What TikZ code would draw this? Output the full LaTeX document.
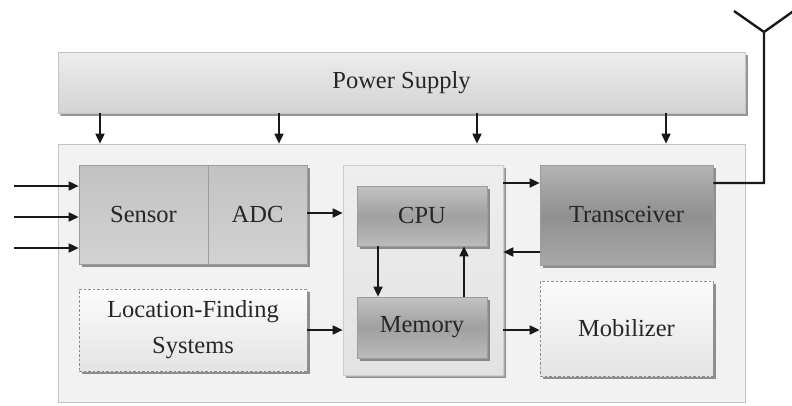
\documentclass[tikz,border=0pt]{standalone}
\usepackage{fontspec}
\setmainfont{Liberation Serif}
\usepackage{xcolor}
\usetikzlibrary{
    arrows.meta,
    shadows,
    positioning
}
\definecolor{edgegray}{HTML}{9C9C9C}
\definecolor{framegray}{HTML}{F2F2F2}
\definecolor{frameedge}{HTML}{C4C4C4}
\definecolor{powtop}{HTML}{EDEDED}
\definecolor{powbot}{HTML}{D3D3D3}
\definecolor{senstop}{HTML}{C2C2C2}
\definecolor{sensbot}{HTML}{D2D2D2}
\definecolor{proctop}{HTML}{EEEEEE}
\definecolor{procbot}{HTML}{E2E2E2}
\definecolor{cputop}{HTML}{C2C2C2}
\definecolor{cpumid}{HTML}{A0A0A0}
\definecolor{cpubot}{HTML}{BBBBBB}
\definecolor{trtop}{HTML}{B4B4B4}
\definecolor{trmid}{HTML}{909090}
\definecolor{trbot}{HTML}{A8A8A8}
\definecolor{dashtop}{HTML}{FCFCFC}
\definecolor{dashbot}{HTML}{E4E4E4}

\tikzset{
    block/.style={rectangle, draw=edgegray, line width=0.7pt, inner sep=0pt,
        font=\fontsize{24.5}{36}\selectfont, text=black!85,
        drop shadow={shadow xshift=2.5pt, shadow yshift=-2.5pt, fill=black!70, opacity=0.6}},
    dashblock/.style={block, dash pattern=on 2.5pt off 2pt, draw=black!45,
        top color=dashtop, bottom color=dashbot},
    arr/.style={-{Triangle[length=10pt, width=9pt]}, line width=1.8pt, black!90}
}

\begin{document}
\begin{tikzpicture}[x=1pt, y=-1pt]
    \useasboundingbox (0, 0) rectangle (792, 405);
    % power supply and outer frame
    \node[block, draw=frameedge, minimum width=687pt, minimum height=61pt,
        top color=powtop, bottom color=powbot,
        drop shadow={shadow xshift=2pt, shadow yshift=-2.5pt, fill=black!40, opacity=0.6}]
        (power) at (401.5, 82.5) {Power Supply};
    \node[rectangle, draw=frameedge, line width=0.7pt, fill=framegray,
        minimum width=687pt, minimum height=258pt] (frame) at (401.5, 273) {};
    % blocks
    \node[block, minimum width=129pt, minimum height=99pt,
        top color=senstop, bottom color=sensbot] (sensor) at (143.5, 214.5) {Sensor};
    \node[block, minimum width=99pt, minimum height=99pt,
        top color=senstop, bottom color=sensbot, right=-0.7pt of sensor] (adc) {ADC};
    \node[block, draw=black!20, minimum width=160pt, minimum height=210pt,
        top color=proctop, bottom color=procbot,
        drop shadow={shadow xshift=2pt, shadow yshift=-2pt, fill=black!25, opacity=0.6}]
        (proc) at (423, 270) {};
    \node[block, minimum width=130pt, minimum height=60pt,
        top color=cputop, bottom color=cpubot, middle color=cpumid] (cpu) at (422, 216) {CPU};
    \node[block, minimum width=130pt, minimum height=61pt,
        top color=cputop, bottom color=cpubot, middle color=cpumid] (mem) at (422, 327.5) {Memory};
    \node[dashblock, minimum width=228pt, minimum height=82pt, align=center]
        (loc) at (193, 330) {Location-Finding\\Systems};
    \node[block, minimum width=173pt, minimum height=100pt,
        top color=trtop, bottom color=trbot, middle color=trmid] (trans) at (626.5, 215) {Transceiver};
    \node[dashblock, minimum width=173pt, minimum height=95pt]
        (mob) at (626.5, 328.5) {Mobilizer};
    % power lines
    \foreach \px in {100, 279, 477, 666}
        \draw[arr] (\px, 0 |- power.south) -- (\px, 0 |- frame.north);
    % inputs
    \foreach \py in {186, 217, 248}
        \draw[arr] (14, \py) -- (14, \py -| sensor.west);
    \draw[arr] (adc.east |- 0, 213) -- (proc.west |- 0, 213);
    \draw[arr] (loc.east) -- (loc.east -| proc.west);
    \draw[arr] (378, 0 |- cpu.south) -- (378, 0 |- mem.north);
    \draw[arr] (464, 0 |- mem.north) -- (464, 0 |- cpu.south);
    \draw[arr] (proc.east |- 0, 183) -- (trans.west |- 0, 183);
    \draw[arr] (trans.west |- 0, 252) -- (proc.east |- 0, 252);
    \draw[arr] (proc.east |- 0, 330) -- (mob.west |- 0, 330);
    % antenna
    \coordinate (ant) at (764, 32);
    \draw[line width=2.4pt, black!90]
        (trans.east |- 0, 183) -- (ant |- 0, 183) -- (ant)
        (734, 11) -- (ant) -- (795, 10);
\end{tikzpicture}
\end{document}
